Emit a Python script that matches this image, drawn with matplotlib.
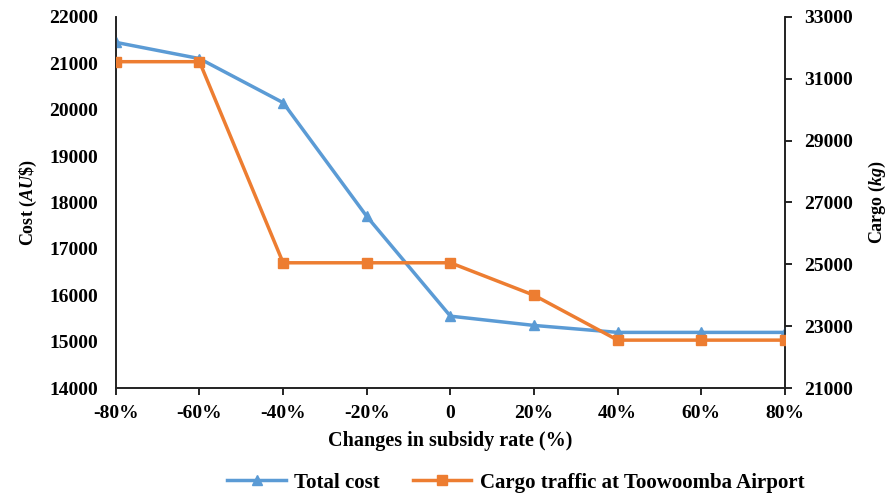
import matplotlib.pyplot as plt

# --- Data ---
subsidy_change = ["-80%", "-60%", "-40%", "-20%", "0", "20%", "40%", "60%", "80%"]
total_cost = [21450, 21100, 20150, 17700, 15550, 15350, 15200, 15200, 15200]
cargo_traffic = [31550, 31550, 25050, 25050, 25050, 24000, 22550, 22550, 22550]

plt.rcParams["font.family"] = "Liberation Serif"
plt.rcParams["font.weight"] = "bold"
plt.rcParams["mathtext.fontset"] = "custom"
plt.rcParams["mathtext.it"] = "Liberation Serif:italic:bold"
plt.rcParams["mathtext.rm"] = "Liberation Serif:bold"

blue = "#5B9BD5"
orange = "#ED7D31"

fig = plt.figure(figsize=(8.91, 4.95), dpi=100)
ax = fig.add_axes([0.130, 0.216, 0.751, 0.750])
ax2 = ax.twinx()

x = list(range(len(subsidy_change)))
l1, = ax.plot(x, total_cost, color=blue, lw=2.5, marker="^", ms=7,
              label="Total cost", zorder=3)
l2, = ax2.plot(x, cargo_traffic, color=orange, lw=2.5, marker="s", ms=7,
               label="Cargo traffic at Toowoomba Airport", zorder=3)

# --- Axes ---
ax.set_xlim(0, 8)
ax.set_ylim(14000, 22000)
ax2.set_ylim(21000, 33000)
ax.set_yticks(range(14000, 22001, 1000))
ax2.set_yticks(range(21000, 33001, 2000))
ax.set_xticks(x)
ax.set_xticklabels(subsidy_change)

for a in (ax, ax2):
    a.spines["top"].set_visible(False)
    for s in a.spines.values():
        s.set_linewidth(1.2)
        s.set_color("#222222")

ax.tick_params(axis="y", length=0, labelsize=14, pad=13)
ax.tick_params(axis="x", direction="out", length=5, width=1.2,
               labelsize=14, pad=7)
ax2.tick_params(axis="y", direction="out", length=5, width=1.2,
                labelsize=14, pad=9)

ax.set_xlabel("Changes in subsidy rate (%)", fontsize=14.5,
              fontweight="bold", labelpad=7)
ax.set_ylabel(r"Cost ($\mathit{AU\$}$)", fontsize=13,
              fontweight="bold", labelpad=7)
ax2.set_ylabel(r"Cargo ($\mathit{kg}$)", fontsize=13,
               fontweight="bold", labelpad=10)

fig.legend(handles=[l1, l2], loc="center", bbox_to_anchor=(0.579, 0.025),
           ncol=2, frameon=False, fontsize=15, handlelength=2.8,
           columnspacing=1.6, handletextpad=0.4)

fig.savefig("out.png", dpi=100)
